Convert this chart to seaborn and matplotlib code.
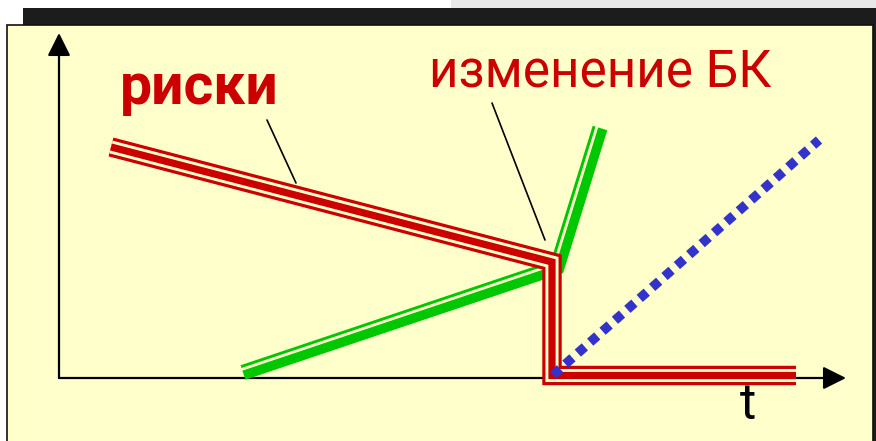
"""Schematic: risks vs. capital-base change over time."""

import matplotlib
matplotlib.use("Agg")
import matplotlib.pyplot as plt
import matplotlib.patheffects as pe
from matplotlib.patches import Rectangle
import pandas as pd
import seaborn as sns

# ── Data (schematic units, origin at the axes crossing) ─────────────────────
risk_t = [5.2, 49.3, 49.3, 73.7]
risk_v = [23.1, 11.6, 0.25, 0.25]

capital_t = [18.4, 49.8, 54.1]
capital_v = [0.55, 11.1, 25.0]

trend_t = [49.4, 76.0]
trend_v = [0.3, 23.8]

risk_leader_t = [20.8, 23.7]
risk_leader_v = [25.8, 19.5]
change_leader_t = [43.3, 48.6]
change_leader_v = [27.5, 13.8]

label_risk = "риски"
label_change = "изменение БК"
label_time = "t"

# ── Style ────────────────────────────────────────────────────────────────────
RED = "#CC0000"
GREEN = "#00C800"
BLUE = "#3333CC"
BG = "#FFFFCC"

sns.set_theme(style="white")
plt.rcParams["font.family"] = ["Roboto", "DejaVu Sans"]

W, H = 876, 441
fig = plt.figure(figsize=(W / 100, H / 100), dpi=100, facecolor="white")


def fig_rect(x0, y0, x1, y1, **kw):
    # pixel box (top-left origin) -> figure fraction rectangle
    return Rectangle((x0 / W, 1 - y1 / H), (x1 - x0) / W, (y1 - y0) / H,
                     transform=fig.transFigure, **kw)


# slide background pieces
fig.patches.extend([
    fig_rect(451, 0, 876, 9, facecolor="#E8E8E8", edgecolor="none", zorder=-3),
    fig_rect(23, 8, 876, 441, facecolor="#1C1C1C", edgecolor="none", zorder=-2),
    fig_rect(7, 25, 873, 445, facecolor=BG, edgecolor="#111111",
             linewidth=1.2, zorder=-1),
])

ax = fig.add_axes([0, 0, 1, 1])
ax.set_facecolor("none")
ax.set_xlim(-5.9, 81.7)
ax.set_ylim(-6.3, 37.8)
ax.axis("off")


def line(t, v, **kw):
    df = pd.DataFrame({"t": t, "v": v})
    sns.lineplot(data=df, x="t", y="v", sort=False, estimator=None,
                 ax=ax, legend=False, **kw)


# ── Axes with arrows ────────────────────────────────────────────────────────
arrow = dict(arrowstyle="-|>,head_length=1.0,head_width=0.5", color="black",
             lw=1.6, mutation_scale=14, shrinkA=0, shrinkB=0)
ax.annotate("", xy=(0, 34.5), xytext=(0, 0), arrowprops=arrow, zorder=2)
ax.annotate("", xy=(78.7, 0), xytext=(0, 0), arrowprops=arrow, zorder=2)

# ── Lines ───────────────────────────────────────────────────────────────────
line(capital_t, capital_v, color=GREEN, linewidth=11, zorder=4,
     solid_joinstyle="miter", solid_capstyle="butt",
     path_effects=[pe.Stroke(linewidth=11, foreground=GREEN),
                   pe.Stroke(linewidth=2.0, foreground=BG,
                             offset=(-1.9, 1.9))])

line(risk_t, risk_v, color=RED, linewidth=14, zorder=5,
     solid_joinstyle="miter", solid_capstyle="butt",
     path_effects=[pe.Stroke(linewidth=14, foreground=RED),
                   pe.Stroke(linewidth=9.4, foreground=BG),
                   pe.Stroke(linewidth=5.2, foreground=RED)])

line(trend_t, trend_v, color=BLUE, linewidth=6.8, dashes=(1, 0.75),
     dash_capstyle="butt", zorder=6)

line(risk_leader_t, risk_leader_v, color="black", linewidth=1.2, zorder=6)
line(change_leader_t, change_leader_v, color="black", linewidth=1.2, zorder=6)

# ── Labels ──────────────────────────────────────────────────────────────────
ax.text(6.1, 27.4, label_risk, color=RED, fontsize=41, fontweight="bold",
        ha="left", va="baseline")
ax.text(37.0, 29.1, label_change, color=RED, fontsize=37,
        ha="left", va="baseline")
ax.text(68.9, -4.1, label_time, color="black", fontsize=36,
        ha="center", va="baseline")

fig.savefig("out.png", dpi=100, facecolor=fig.get_facecolor())
